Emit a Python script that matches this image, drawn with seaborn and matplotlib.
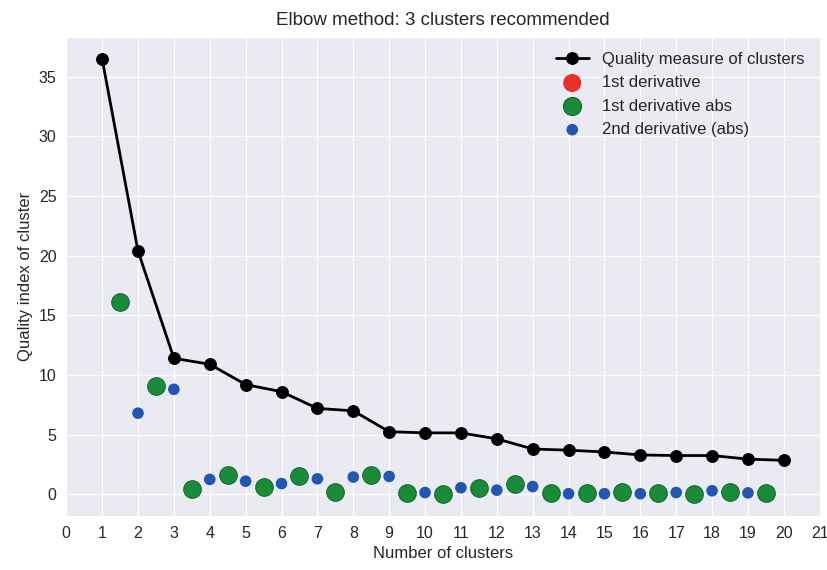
import matplotlib
matplotlib.use("Agg")
import matplotlib.pyplot as plt
import seaborn as sns

# quality index per number of clusters
k = list(range(1, 21))
quality = [36.5, 20.4, 11.4, 10.9, 9.2, 8.6, 7.2, 7.0, 5.25, 5.15,
           5.15, 4.65, 3.8, 3.7, 3.55, 3.3, 3.25, 3.25, 2.95, 2.85]

# 1st derivative, placed between k values
k_half = [1.5, 2.5, 3.5, 4.5, 5.5, 6.5, 7.5, 8.5, 9.5, 10.5,
          11.5, 12.5, 13.5, 14.5, 15.5, 16.5, 17.5, 18.5, 19.5]
d1 = [16.1, 9.1, 0.45, 1.6, 0.6, 1.5, 0.2, 1.6, 0.1, 0.03,
      0.5, 0.85, 0.15, 0.1, 0.2, 0.1, 0.02, 0.2, 0.12]
d1_abs = d1

# 2nd derivative (abs)
k_2nd = list(range(2, 20))
d2_abs = [6.8, 8.8, 1.25, 1.1, 0.9, 1.3, 1.45, 1.5, 0.15,
          0.55, 0.35, 0.65, 0.05, 0.05, 0.05, 0.15, 0.3, 0.12]

sns.set_style("darkgrid")
plt.rcParams["font.family"] = ["Liberation Sans", "DejaVu Sans"]

fig, ax = plt.subplots(figsize=(8.28, 5.7), dpi=100)
fig.subplots_adjust(left=0.08, right=0.99, bottom=0.095, top=0.935)

sns.lineplot(x=k, y=quality, color="black", marker="o", markersize=8.5,
             markeredgecolor="black", linewidth=2,
             label="Quality measure of clusters", ax=ax)
# red sits under the green ones (same values), only seen in the legend
sns.scatterplot(x=k_half, y=d1, color="#e8302a", s=110, edgecolor="none",
                label="1st derivative", ax=ax, zorder=3)
sns.scatterplot(x=k_half, y=d1_abs, color="#1b8a3a", s=160,
                edgecolor="#146b2c", linewidth=0.8,
                label="1st derivative abs", ax=ax, zorder=4)
sns.scatterplot(x=k_2nd, y=d2_abs, color="#2356b0", s=70, edgecolor="none",
                label="2nd derivative (abs)", ax=ax, zorder=5)

ax.set_xlim(0, 21)
ax.set_xticks(range(0, 22))
ax.set_yticks(range(0, 40, 5))
ax.tick_params(labelsize=11.5)
ax.set_xlabel("Number of clusters", fontsize=12)
ax.set_ylabel("Quality index of cluster", fontsize=12)
ax.set_title("Elbow method: 3 clusters recommended", fontsize=13.5, pad=9)
leg = ax.legend(loc="upper right", frameon=False, fontsize=12)
for h in leg.legend_handles[1:3]:
    h.set_sizes([170])

plt.savefig("out.png")
